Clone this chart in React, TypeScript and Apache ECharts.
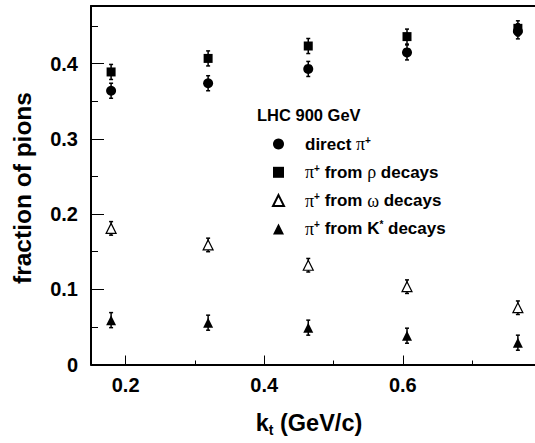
import React, { useEffect, useRef } from "react";
import * as echarts from "echarts";

const kt = [0.179, 0.319, 0.4635, 0.606, 0.766];
const direct = [0.364, 0.374, 0.393, 0.415, 0.443];
const directErr = [0.010, 0.010, 0.010, 0.010, 0.010];
const rho = [0.389, 0.407, 0.4235, 0.436, 0.447];
const rhoErr = [0.010, 0.010, 0.010, 0.010, 0.010];
const omega = [0.181, 0.159, 0.132, 0.1035, 0.0755];
const omegaErr = [0.009, 0.009, 0.009, 0.009, 0.009];
const kstar = [0.059, 0.0556, 0.049, 0.0383, 0.029];
const kstarErr = [0.010, 0.010, 0.010, 0.010, 0.010];

const yTickLabels = [0, 0.1, 0.2, 0.3, 0.4];
const yMinorTicks = [0.05, 0.15, 0.25, 0.35, 0.45];
const xTickLabels = [0.2, 0.4, 0.6];
const xMinorTicks = [0.3, 0.5, 0.7];

const names = ["direct π+", "π+ from ρ decays", "π+ from ω decays", "π+ from K* decays"];
const legendRich: Record<string, string> = {
  "direct π+": "{b|direct }{g|π}{sup|+}",
  "π+ from ρ decays": "{g|π}{sup|+}{b| from }{g|ρ}{b| decays}",
  "π+ from ω decays": "{g|π}{sup|+}{b| from }{g|ω}{b| decays}",
  "π+ from K* decays": "{g|π}{sup|+}{b| from K}{sup|*}{b| decays}",
};

const X_MIN = 0.15;
const X_MAX = 0.7907;
const Y_MIN = 0;
const Y_MAX = 0.4767;

function pts(ys: number[], errs: number[]) {
  return kt.map((x, i) => [x, ys[i], errs[i]]);
}

const errRender = (params: any, api: any) => {
  const x = api.value(0);
  const y = api.value(1);
  const e = api.value(2);
  const t = api.coord([x, y + e]);
  const b = api.coord([x, y - e]);
  const st = { stroke: "#000", lineWidth: 1.5 };
  return {
    type: "group",
    children: [
      { type: "line", shape: { x1: t[0], y1: t[1], x2: b[0], y2: b[1] }, style: st },
      { type: "line", shape: { x1: t[0] - 2, y1: t[1], x2: t[0] + 2, y2: t[1] }, style: st },
      { type: "line", shape: { x1: b[0] - 2, y1: b[1], x2: b[0] + 2, y2: b[1] }, style: st },
    ],
  };
};

export default function App() {
  const ref = useRef<HTMLDivElement>(null);
  useEffect(() => {
    if (!ref.current) return;
    const chart = echarts.init(ref.current, undefined, { renderer: "svg" });
    const font = "Liberation Sans";
    const sets = [
      { name: names[0], d: pts(direct, directErr), symbol: "circle", size: 10, fill: "#000" },
      { name: names[1], d: pts(rho, rhoErr), symbol: "rect", size: 9, fill: "#000" },
      { name: names[2], d: pts(omega, omegaErr), symbol: "triangle", size: [10, 10], fill: "#fff" },
      { name: names[3], d: pts(kstar, kstarErr), symbol: "triangle", size: [10, 10], fill: "#000" },
    ];
    const series: any[] = [];
    sets.forEach((s) => {
      series.push({
        type: "custom",
        name: s.name + " err",
        renderItem: errRender,
        data: s.d,
        z: 2,
        silent: true,
      });
    });
    sets.forEach((s) => {
      series.push({
        type: "scatter",
        name: s.name,
        data: s.d.map((p) => [p[0], p[1]]),
        symbol: s.symbol,
        symbolSize: s.size,
        itemStyle: { color: s.fill, borderColor: "#000", borderWidth: s.fill === "#fff" ? 1.2 : 0, opacity: 1 },
        z: 5,
      });
    });

    const option: any = {
      animation: false,
      backgroundColor: "#fff",
      title: {
        text: "LHC 900 GeV",
        left: 252,
        top: 101,
        textStyle: { fontFamily: font, fontWeight: "bold", fontSize: 16.5, color: "#000" },
      },
      legend: {
        data: names.map((n) => ({ name: n })),
        orient: "vertical",
        left: 267,
        top: 130,
        itemWidth: 11,
        itemHeight: 11,
        itemGap: 10.3,
        selectedMode: false,
        formatter: (n: string) => legendRich[n],
        textStyle: {
          padding: [0, 0, 0, 16],
          rich: {
            b: { fontFamily: font, fontWeight: "bold", fontSize: 17, lineHeight: 18, color: "#000" },
            g: { fontFamily: "Liberation Serif", fontSize: 18, lineHeight: 18, color: "#000" },
            sup: { fontFamily: font, fontWeight: "bold", fontSize: 10, lineHeight: 8, verticalAlign: "top", color: "#000" },
          },
        },
      },
      grid: { left: 91, right: 0, top: 6, bottom: 78.5, containLabel: false },
      xAxis: [
        {
          type: "value",
          position: "bottom",
          min: X_MIN,
          max: X_MAX,
          axisLine: { show: true, lineStyle: { color: "#000", width: 2 } },
          axisTick: { show: true, inside: true, length: 9, customValues: xTickLabels, lineStyle: { color: "#000", width: 1 } },
          axisLabel: {
            customValues: xTickLabels,
            formatter: (v: number) => v.toFixed(1),
            fontFamily: font,
            fontWeight: "bold",
            fontSize: 20,
            color: "#000",
            margin: 10,
          },
          splitLine: { show: false },
        },
        {
          type: "value",
          position: "bottom",
          min: X_MIN,
          max: X_MAX,
          axisLine: { show: false },
          axisTick: { show: true, inside: true, length: 4, customValues: xMinorTicks, lineStyle: { color: "#000", width: 1 } },
          axisLabel: { show: false },
          splitLine: { show: false },
        },
        {
          type: "value",
          position: "top",
          min: X_MIN,
          max: X_MAX,
          axisLine: { show: true, lineStyle: { color: "#000", width: 2 } },
          axisTick: { show: false },
          axisLabel: { show: false },
          splitLine: { show: false },
        },
      ],
      yAxis: [
        {
          type: "value",
          position: "left",
          min: Y_MIN,
          max: Y_MAX,
          axisLine: { show: true, lineStyle: { color: "#000", width: 2 } },
          axisTick: { show: true, inside: true, length: 13, customValues: yTickLabels, lineStyle: { color: "#000", width: 1 } },
          axisLabel: {
            customValues: yTickLabels,
            formatter: (v: number) => (v === 0 ? "0" : v.toFixed(1)),
            fontFamily: font,
            fontWeight: "bold",
            fontSize: 20,
            color: "#000",
            margin: 13,
          },
          splitLine: { show: false },
        },
        {
          type: "value",
          position: "left",
          min: Y_MIN,
          max: Y_MAX,
          axisLine: { show: false },
          axisTick: { show: true, inside: true, length: 7, customValues: yMinorTicks, lineStyle: { color: "#000", width: 1 } },
          axisLabel: { show: false },
          splitLine: { show: false },
        },
      ],
      graphic: [
        {
          type: "text",
          x: 22,
          y: 188,
          rotation: Math.PI / 2,
          style: {
            text: "fraction of pions",
            fontFamily: font,
            fontWeight: "bold",
            fontSize: 24.5,
            fill: "#000",
            align: "center",
            verticalAlign: "middle",
          },
        },
        {
          type: "text",
          x: 309,
          y: 423,
          style: {
            text: "{b|k}{s|t}{b| (GeV/c)}",
            align: "center",
            verticalAlign: "middle",
            rich: {
              b: { fontFamily: font, fontWeight: "bold", fontSize: 23.5, lineHeight: 28, fill: "#000" },
              s: { fontFamily: font, fontWeight: "bold", fontSize: 14, lineHeight: 14, verticalAlign: "bottom", fill: "#000" },
            },
          },
        },
      ],
      series,
    };
    chart.setOption(option);
    return () => chart.dispose();
  }, []);
  return (
    <div
      ref={ref}
      style={{ position: "absolute", left: 0, top: 0, width: 535, height: 443 }}
    />
  );
}
